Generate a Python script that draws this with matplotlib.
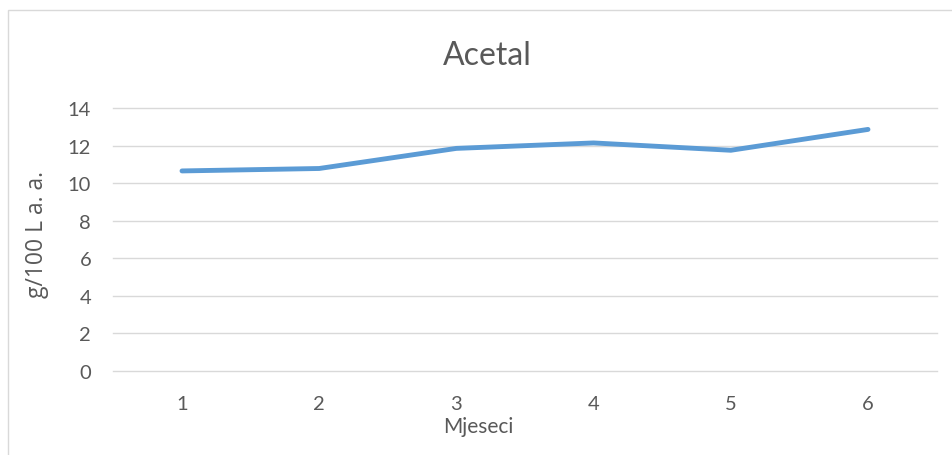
import matplotlib
matplotlib.use("Agg")
import matplotlib.pyplot as plt
from matplotlib.patches import Rectangle

months = [1, 2, 3, 4, 5, 6]
month_labels = ["1", "2", "3", "4", "5", "6"]
acetal = [10.65, 10.78, 11.85, 12.14, 11.75, 12.86]
y_ticks = [0, 2, 4, 6, 8, 10, 12, 14]

plt.rcParams['font.family'] = ['Lato', 'DejaVu Sans']
txt = '#595959'

fig = plt.figure(figsize=(9.52, 4.56), dpi=100)
fig.patch.set_facecolor('white')

# chart area border
fig.patches.append(Rectangle((8/952, -0.1), 1.1, 1.1 - 10.5/456,
                             transform=fig.transFigure, fill=False,
                             edgecolor='#D9D9D9', linewidth=1.0))

ax = fig.add_axes([113.4/952, 1 - 372/456, (936.6 - 113.4)/952, (372 - 109)/456])
ax.plot(months, acetal, color='#5B9BD5', linewidth=3.5, solid_capstyle='round',
        solid_joinstyle='round', zorder=3)

ax.set_xlim(0.5, 6.5)
ax.set_ylim(0, 14)
ax.set_yticks(y_ticks)
ax.set_yticklabels([str(v) for v in y_ticks])
ax.set_xticks(months)
ax.set_xticklabels(month_labels)
ax.grid(axis='y', color='#D9D9D9', linewidth=1.0)
for gl in ax.get_ygridlines():
    gl.set_clip_on(False)
ax.set_axisbelow(True)
for s in ax.spines.values():
    s.set_visible(False)
ax.tick_params(axis='both', length=0, labelsize=14.5, colors=txt)
ax.tick_params(axis='y', pad=16)
ax.tick_params(axis='x', pad=17)

fig.text(487/952, 1 - 65/456, "Acetal", ha='center', va='baseline',
         fontsize=23, color=txt)
fig.text(478/952, 1 - 433/456, "Mjeseci", ha='center', va='baseline',
         fontsize=15, color=txt)
fig.text(37/952, 1 - 235/456, "g/100 L a. a.", ha='center', va='center',
         rotation=90, fontsize=16.5, color=txt, family=['Open Sans', 'DejaVu Sans'])

fig.savefig("out.png", dpi=100)
